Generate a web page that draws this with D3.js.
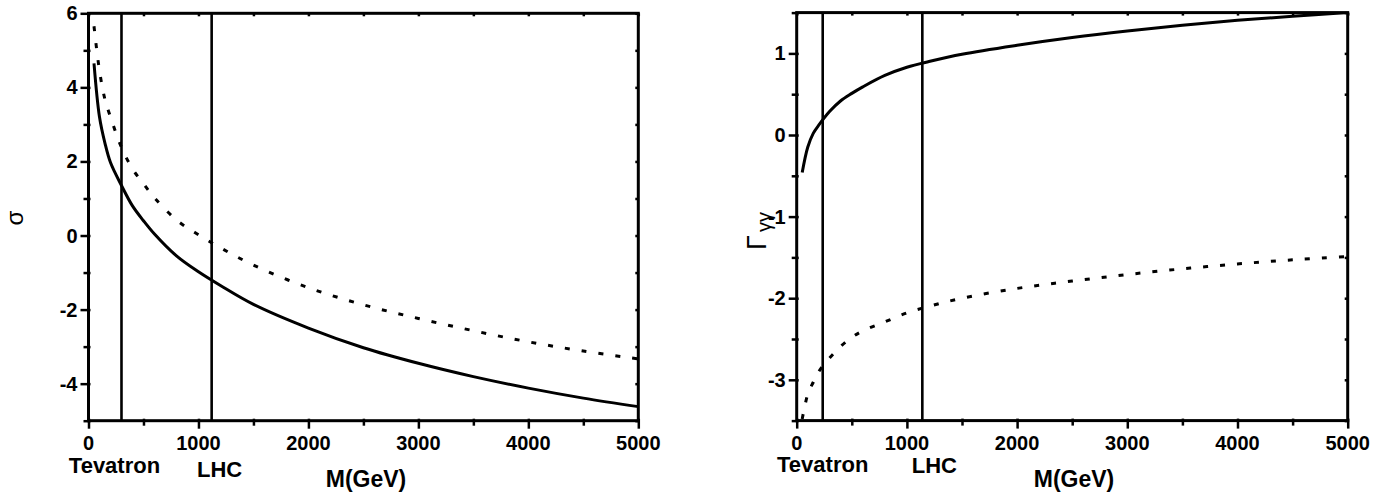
<!DOCTYPE html>
<html>
<head>
<meta charset="utf-8">
<script src="https://cdn.jsdelivr.net/npm/d3@7"></script>
<style>
  body { margin: 0; background: #fff; }
  svg { display: block; font-family: "Liberation Sans", Arial, sans-serif; }
</style>
</head>
<body>
<svg id="chart" width="1393" height="493"></svg>
<script>
'use strict';

// data
var massGeV = [50, 100, 150, 200, 300, 400, 500, 600, 800, 1000, 1200, 1500, 2000, 2500, 3000, 3500, 4000, 4500, 5000];
var sigmaSolid = [4.65, 3.2, 2.49, 1.97, 1.35, 0.8, 0.4, 0.04, -0.55, -0.98, -1.35, -1.86, -2.5, -3.03, -3.45, -3.81, -4.12, -4.39, -4.62];
var sigmaDashed = [5.65, 4.45, 3.67, 3.2, 2.38, 1.8, 1.4, 1.02, 0.42, 0.02, -0.33, -0.8, -1.41, -1.87, -2.24, -2.57, -2.87, -3.12, -3.33];
var gammaSolid = [-0.46, -0.15, 0.02, 0.12, 0.29, 0.42, 0.51, 0.59, 0.73, 0.83, 0.9, 0.99, 1.1, 1.195, 1.275, 1.345, 1.405, 1.455, 1.5];
var gammaDashed = [-3.48, -3.18, -3.03, -2.9, -2.73, -2.59, -2.48, -2.4, -2.29, -2.18, -2.1, -2.0, -1.88, -1.79, -1.71, -1.64, -1.58, -1.53, -1.49];

var massTicks = [0, 1000, 2000, 3000, 4000, 5000];
var massMinor = [500, 1500, 2500, 3500, 4500];
var sigmaTicks = [-4, -2, 0, 2, 4, 6];
var sigmaMinor = [-5, -3, -1, 1, 3, 5];
var gammaTicks = [-3, -2, -1, 0, 1];
var gammaMinor = [-3.5, -2.5, -1.5, -0.5, 0.5, 1.5];

// collider masses marked by the vertical lines (left panel, right panel)
var tevatronMass = [300, 236];
var lhcMass = [1120, 1140];

var svg = d3.select('#chart');

function drawPanel(p, idx) {
  var x = d3.scaleLinear().domain([0, 5000]).range([p.left, p.right]);
  var y = d3.scaleLinear().domain(p.yDomain).range([p.bottom, p.top]);
  var g = svg.append('g');

  g.append('clipPath').attr('id', 'clip' + idx)
    .append('rect')
    .attr('x', p.left).attr('y', p.top)
    .attr('width', p.right - p.left).attr('height', p.bottom - p.top);

  // tick marks: outward on left/bottom, small inward mirrors on right/top
  var yMaj = g.append('g').attr('transform', 'translate(' + p.left + ',0)')
    .call(d3.axisLeft(y).tickValues(p.yMajor).tickSize(8).tickFormat(''));
  var yMin = g.append('g').attr('transform', 'translate(' + p.left + ',0)')
    .call(d3.axisLeft(y).tickValues(p.yMinor).tickSize(5).tickFormat(''));
  var yR = g.append('g').attr('transform', 'translate(' + p.right + ',0)')
    .call(d3.axisLeft(y).tickValues(p.yMajor.concat(p.yMinor)).tickSize(3).tickFormat(''));
  var xMaj = g.append('g').attr('transform', 'translate(0,' + p.bottom + ')')
    .call(d3.axisBottom(x).tickValues(massTicks).tickSize(8).tickFormat(''));
  var xMin = g.append('g').attr('transform', 'translate(0,' + p.bottom + ')')
    .call(d3.axisBottom(x).tickValues(massMinor).tickSize(5).tickFormat(''));
  var xT = g.append('g').attr('transform', 'translate(0,' + p.top + ')')
    .call(d3.axisBottom(x).tickValues(massTicks.concat(massMinor)).tickSize(3).tickFormat(''));

  [yMaj, yMin, yR, xMaj, xMin, xT].forEach(function(a) {
    a.select('.domain').remove();
    a.selectAll('text').remove();
    a.selectAll('line').attr('stroke', '#000').attr('stroke-width', 2.5);
  });
  yMaj.selectAll('line').attr('x1', 2);
  yMin.selectAll('line').attr('x1', 2);
  xMaj.selectAll('line').attr('y1', -2);
  xMin.selectAll('line').attr('y1', -2);

  // tick labels
  g.selectAll('text.ylab')
    .data(p.yMajor)
    .enter().append('text')
      .attr('class', 'ylab')
      .attr('x', p.left - 11)
      .attr('y', function(d) { return y(d) + 7; })
      .attr('text-anchor', 'end')
      .attr('font-size', 20).attr('font-weight', 'bold')
      .text(function(d) { return String(d); });
  g.selectAll('text.xlab')
    .data(massTicks)
    .enter().append('text')
      .attr('class', 'xlab')
      .attr('x', function(d) { return x(d); })
      .attr('y', p.bottom + 29)
      .attr('text-anchor', 'middle')
      .attr('font-size', 20).attr('font-weight', 'bold')
      .text(function(d) { return String(d); });

  var line = d3.line()
    .x(function(d) { return x(d[0]); })
    .y(function(d) { return y(d[1]); })
    .curve(d3.curveCatmullRom.alpha(0.5));

  var curves = g.append('g').attr('clip-path', 'url(#clip' + idx + ')');
  curves.append('path')
    .datum(d3.zip(massGeV, p.solid))
    .attr('d', line)
    .attr('fill', 'none')
    .attr('stroke', '#000')
    .attr('stroke-width', 3);
  curves.append('path')
    .datum(d3.zip(massGeV, p.dashed))
    .attr('d', line)
    .attr('fill', 'none')
    .attr('stroke', '#000')
    .attr('stroke-width', 3)
    .attr('stroke-dasharray', '5,12');

  // Tevatron and LHC markers
  g.selectAll('line.marker')
    .data([tevatronMass[idx], lhcMass[idx]])
    .enter().append('line')
      .attr('class', 'marker')
      .attr('x1', function(d) { return x(d); })
      .attr('x2', function(d) { return x(d); })
      .attr('y1', p.top)
      .attr('y2', p.bottom)
      .attr('stroke', '#000')
      .attr('stroke-width', 2.6);

  // frame
  g.append('rect')
    .attr('x', p.left).attr('y', p.top)
    .attr('width', p.right - p.left).attr('height', p.bottom - p.top)
    .attr('fill', 'none')
    .attr('stroke', '#000')
    .attr('stroke-width', 3);

  // labels under the axis
  g.append('text')
    .attr('x', x(tevatronMass[idx]) + p.tevOffset).attr('y', p.tevY)
    .attr('text-anchor', 'middle')
    .attr('font-size', 22).attr('font-weight', 'bold')
    .text('Tevatron');
  g.append('text')
    .attr('x', x(lhcMass[idx]) + p.lhcOffset).attr('y', p.lhcY)
    .attr('text-anchor', 'middle')
    .attr('font-size', 22).attr('font-weight', 'bold')
    .text('LHC');
  g.append('text')
    .attr('x', p.titleX).attr('y', 487)
    .attr('text-anchor', 'middle')
    .attr('font-size', 23).attr('font-weight', 'bold')
    .text('M(GeV)');

  return g;
}

var left = drawPanel({
  left: 88.5, right: 638.3, top: 13.3, bottom: 420.7,
  yDomain: [-5, 6], yMajor: sigmaTicks, yMinor: sigmaMinor,
  solid: sigmaSolid, dashed: sigmaDashed,
  tevOffset: -7, tevY: 473, lhcOffset: 8, lhcY: 477, titleX: 366
}, 0);

var right = drawPanel({
  left: 796.7, right: 1347.7, top: 12.6, bottom: 420.6,
  yDomain: [-3.5, 1.5], yMajor: gammaTicks, yMinor: gammaMinor,
  solid: gammaSolid, dashed: gammaDashed,
  tevOffset: 0, tevY: 472, lhcOffset: 12, lhcY: 473, titleX: 1074
}, 1);

// y axis titles
left.append('text')
  .attr('transform', 'translate(23,218) rotate(-90)')
  .attr('text-anchor', 'middle')
  .attr('font-size', 24)
  .text('σ');

var gt = right.append('text')
  .attr('transform', 'translate(766,231) rotate(-90)')
  .attr('text-anchor', 'middle')
  .attr('font-size', 27);
gt.append('tspan').text('Γ');
gt.append('tspan').attr('dx', 3).attr('dy', 5).attr('font-size', 20).text('γγ');
</script>
</body>
</html>
